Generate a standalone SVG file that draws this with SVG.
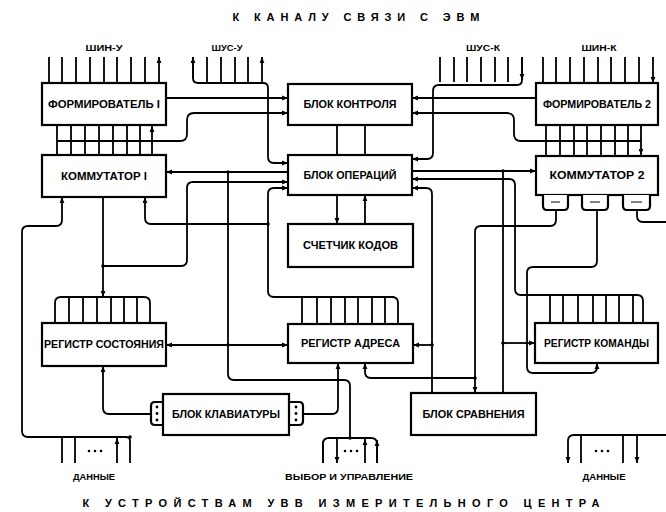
<svg xmlns="http://www.w3.org/2000/svg" width="666" height="512" viewBox="0 0 666 512">
<style>
.b{fill:#fff;stroke:#000;stroke-width:2.2}
.w{fill:none;stroke:#000;stroke-width:1.8}
.t{font-family:"Liberation Sans",Arial,sans-serif;font-weight:bold;font-size:10px;fill:#000;text-anchor:middle}
.s{font-family:"Liberation Sans",Arial,sans-serif;font-weight:bold;font-size:9px;fill:#000;text-anchor:middle}
.h{font-family:"Liberation Sans",Arial,sans-serif;font-weight:bold;font-size:11px;fill:#000;text-anchor:middle}
.d{fill:#000}
</style>
<defs>
<marker id="a" viewBox="0 0 8 8" refX="8" refY="4" markerWidth="6" markerHeight="6" markerUnits="userSpaceOnUse" orient="auto-start-reverse"><path d="M0,0.8 L8,4 L0,7.2z" fill="#000"/></marker>
</defs>
<rect width="666" height="512" fill="#fff"/>
<text class="h" x="356" y="21" textLength="247" lengthAdjust="spacing">К КАНАЛУ СВЯЗИ С ЭВМ</text>
<text class="h" x="341" y="507" textLength="517" lengthAdjust="spacing">К УСТРОЙСТВАМ УВВ ИЗМЕРИТЕЛЬНОГО ЦЕНТРА</text>
<text class="s" x="104" y="51" textLength="37" lengthAdjust="spacingAndGlyphs">ШИН-У</text>
<text class="s" x="227" y="51" textLength="31" lengthAdjust="spacingAndGlyphs">ШУС-У</text>
<text class="s" x="483" y="51" textLength="34" lengthAdjust="spacingAndGlyphs">ШУС-К</text>
<text class="s" x="599" y="51" textLength="35" lengthAdjust="spacingAndGlyphs">ШИН-К</text>
<text class="s" x="94" y="480" textLength="42" lengthAdjust="spacingAndGlyphs">ДАННЫЕ</text>
<text class="s" x="349" y="480" textLength="128" lengthAdjust="spacingAndGlyphs">ВЫБОР И УПРАВЛЕНИЕ</text>
<text class="s" x="604" y="480" textLength="43" lengthAdjust="spacingAndGlyphs">ДАННЫЕ</text>

<g id="connectors" class="w">
<path marker-end="url(#a)" d="M49,83V57M62,83V57M76,83V57M90,83V57M104,83V57M117,83V57M131,83V57M145,83V57M159,83V57"/>
<path marker-end="url(#a)" d="M207,83V57M221,83V57M235,83V57M248,83V57M262,83V57"/>
<path marker-end="url(#a)" d="M193,79V57"/>
<path marker-end="url(#a)" d="M193,57V78Q193,83 198,83H263Q268,83 268,88V157Q268,163 274,163H288"/>
<path marker-end="url(#a)" d="M440,57V82M454,57V82M467,57V82M481,57V82M495,57V82M508,57V82M522,57V80"/>
<path d="M522,57V80Q522,85 517,85H439Q433,85 433,91V153Q433,159 427,159H412" marker-end="url(#a)"/>
<path marker-end="url(#a)" d="M543,57V83M556,57V83M570,57V83M584,57V83M598,57V83M611,57V83M625,57V83M639,57V83M653,57V83"/>
<path marker-end="url(#a)" d="M57,155V126M71,155V126M85,155V126M99,155V126M113,155V126M127,155V126M140,155V126M152,155V126"/>
<path d="M57,141H180Q187,141 187,134V120Q187,113 194,113H288" marker-end="url(#a)"/>
<path marker-end="url(#a)" d="M546,125V155M560,125V155M574,125V155M587,125V155M601,125V155M615,125V155M628,125V155M641,125V155"/>
<path d="M641,141H521Q514,141 514,134V120Q514,113 507,113H412" marker-end="url(#a)"/>
<path d="M166,98H288" marker-end="url(#a)"/>
<path d="M536,98H412" marker-end="url(#a)"/>
<path d="M337,125V155M365,125V155"/>
<path d="M337,195V224" marker-end="url(#a)"/>
<path d="M365,224V195" marker-end="url(#a)"/>
<path d="M288,172H166" marker-end="url(#a)"/>
<path d="M228,172V374Q228,380 234,380H344Q350,380 350,386V438"/>
<path d="M103,266H181Q187,266 187,260V188Q187,182 193,182H288" marker-end="url(#a)"/>
<path d="M103,197V297" marker-end="url(#a)"/>
<path d="M130,463V441Q130,437 126,437H28Q22,437 22,431V232Q22,226 28,226H56Q62,226 62,220V197" marker-end="url(#a)"/>
<path marker-end="url(#a)" d="M62,463V438M75,463V438M117,463V438"/>
<path d="M268,224H151Q145,224 145,218V197" marker-end="url(#a)"/>
<path d="M394,297H274Q268,297 268,291V194Q268,188 274,188H288" marker-end="url(#a)"/>
<path d="M392,297Q398,297 398,303V324"/>
<path d="M302,297V324M317,297V324M331,297V324M345,297V324M358,297V324M372,297V324M385,297V324"/>
<path d="M55,323V303Q55,297 61,297H144Q150,297 150,303V323"/>
<path d="M69,297V323M83,297V323M97,297V323M111,297V323M124,297V323M137,297V323"/>
<path d="M166,345H288" marker-start="url(#a)" marker-end="url(#a)"/>
<path d="M151,414H109Q103,414 103,408V366" marker-end="url(#a)"/>
<path d="M303,414H332Q338,414 338,408V363" marker-end="url(#a)"/>
<path d="M475,378H371Q365,378 365,372V363" marker-end="url(#a)"/>
<path d="M323,463V444Q323,438 329,438H371Q377,438 377,444V463"/>
<path d="M323,441V463M337,438V463" marker-end="url(#a)"/>
<path d="M365,463V439" marker-end="url(#a)"/>
<path d="M377,463V440" marker-end="url(#a)"/>
<path d="M432,393V194Q432,188 426,188H412" marker-end="url(#a)"/>
<path d="M432,345H413" marker-end="url(#a)"/>
<path d="M412,171H536" marker-end="url(#a)"/>
<path d="M503,171V393"/>
<path d="M503,343H535" marker-end="url(#a)"/>
<path d="M637,295H521Q515,295 515,289V185Q515,179 509,179H412" marker-end="url(#a)"/>
<path d="M637,295Q643,295 643,301V323"/>
<path d="M550,295V323M563,295V323M578,295V323M593,295V323M606,295V323M619,295V323M633,295V323"/>
<path d="M556,210V220Q556,226 550,226H481Q475,226 475,232V393" marker-end="url(#a)"/>
<path d="M597,210V261Q597,267 591,267H533Q527,267 527,273V367Q527,373 533,373H591Q597,373 597,367V363" marker-end="url(#a)"/>
<path d="M637,210V216Q637,222 643,222H666"/>
<path d="M666,435H574Q568,435 568,441V463" marker-end="url(#a)"/>
<path marker-end="url(#a)" d="M581,435V463M623,435V463M637,435V463"/>
</g>
<g class="d">
<circle cx="228" cy="172" r="1.8"/><circle cx="228" cy="345" r="1.8"/><circle cx="268" cy="224" r="1.8"/>
<circle cx="103" cy="266" r="1.8"/><circle cx="432" cy="345" r="1.8"/><circle cx="503" cy="171" r="1.8"/>
<circle cx="503" cy="343" r="1.8"/><circle cx="475" cy="378" r="1.8"/><circle cx="350" cy="438" r="1.8"/>
<circle cx="130" cy="437" r="1.8"/>
</g>
<g class="d">
<circle cx="89" cy="451" r="1.3"/><circle cx="95" cy="451" r="1.3"/><circle cx="101" cy="451" r="1.3"/>
<circle cx="345" cy="451" r="1.3"/><circle cx="351" cy="451" r="1.3"/><circle cx="357" cy="451" r="1.3"/>
<circle cx="596" cy="451" r="1.3"/><circle cx="602" cy="451" r="1.3"/><circle cx="608" cy="451" r="1.3"/>
</g>

<g id="formirovatel1"><rect class="b" x="42" y="83" width="124" height="42"/><text class="t" x="104" y="107.5" textLength="112" lengthAdjust="spacingAndGlyphs">ФОРМИРОВАТЕЛЬ I</text></g>
<g id="blok-kontrolya"><rect class="b" x="288" y="84" width="124" height="41"/><text class="t" x="350" y="108" textLength="93" lengthAdjust="spacingAndGlyphs">БЛОК КОНТРОЛЯ</text></g>
<g id="formirovatel2"><rect class="b" x="536" y="83" width="122" height="42"/><text class="t" x="597" y="108" textLength="108" lengthAdjust="spacingAndGlyphs">ФОРМИРОВАТЕЛЬ 2</text></g>
<g id="kommutator1"><rect class="b" x="42" y="155" width="124" height="42"/><text class="t" x="104" y="179.5" textLength="86" lengthAdjust="spacingAndGlyphs">КОММУТАТОР I</text></g>
<g id="blok-operaciy"><rect class="b" x="288" y="155" width="124" height="40"/><text class="t" x="350" y="178.5" textLength="93" lengthAdjust="spacingAndGlyphs">БЛОК ОПЕРАЦИЙ</text></g>
<g id="kommutator2"><rect class="b" x="536" y="156" width="122" height="39"/><text class="t" x="597" y="179" textLength="95" lengthAdjust="spacingAndGlyphs">КОММУТАТОР 2</text>
<path class="b" d="M543,195V206Q543,210 547,210H564Q568,210 568,206V195"/>
<path class="b" d="M582,195V206Q582,210 586,210H604Q608,210 608,206V195"/>
<path class="b" d="M623,195V206Q623,210 627,210H646Q650,210 650,206V195"/>
<path d="M551,202H560M590,202H600M631,202H642" stroke="#000" stroke-width="1"/></g>
<g id="schetchik-kodov"><rect class="b" x="288" y="224" width="125" height="43"/><text class="t" x="350.5" y="249" textLength="95" lengthAdjust="spacingAndGlyphs">СЧЕТЧИК КОДОВ</text></g>
<g id="registr-sostoyaniya"><rect class="b" x="42" y="323" width="124" height="43"/><text class="t" x="104" y="348" textLength="120" lengthAdjust="spacingAndGlyphs">РЕГИСТР СОСТОЯНИЯ</text></g>
<g id="registr-adresa"><rect class="b" x="288" y="324" width="125" height="39"/><text class="t" x="350.5" y="347" textLength="99" lengthAdjust="spacingAndGlyphs">РЕГИСТР АДРЕСА</text></g>
<g id="registr-komandy"><rect class="b" x="535" y="323" width="123" height="40"/><text class="t" x="596.5" y="346.5" textLength="105" lengthAdjust="spacingAndGlyphs">РЕГИСТР КОМАНДЫ</text></g>
<g id="blok-klaviatury">
<path class="b" d="M163,402H155Q151,402 151,406V421Q151,425 155,425H163"/>
<path class="b" d="M289,402H299Q303,402 303,406V421Q303,425 299,425H289"/>
<rect class="b" x="163" y="394" width="126" height="41"/>
<circle class="d" cx="157" cy="407" r="1.4"/><circle class="d" cx="157" cy="413.5" r="1.4"/><circle class="d" cx="157" cy="420" r="1.4"/>
<circle class="d" cx="296" cy="407" r="1.4"/><circle class="d" cx="296" cy="413.5" r="1.4"/><circle class="d" cx="296" cy="420" r="1.4"/>
<text class="t" x="226" y="418" textLength="108" lengthAdjust="spacingAndGlyphs">БЛОК КЛАВИАТУРЫ</text></g>
<g id="blok-sravneniya"><rect class="b" x="411" y="393" width="125" height="42"/><text class="t" x="473.5" y="417.5" textLength="102" lengthAdjust="spacingAndGlyphs">БЛОК СРАВНЕНИЯ</text></g>
</svg>
